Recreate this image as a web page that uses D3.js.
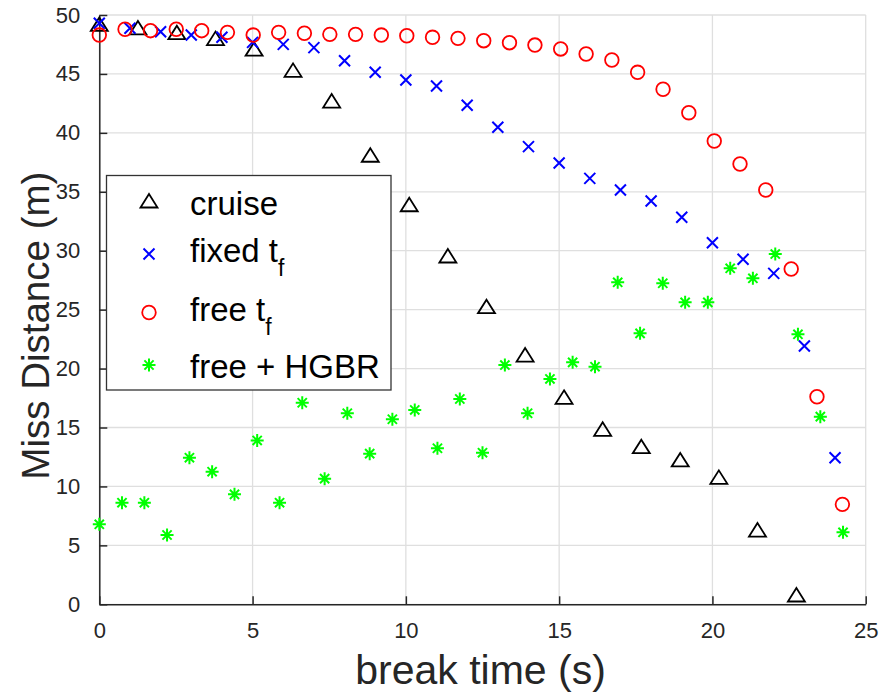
<!DOCTYPE html>
<html>
<head>
<meta charset="utf-8">
<script src="https://cdn.jsdelivr.net/npm/d3@7/dist/d3.min.js"></script>
<style>
  html, body { margin: 0; padding: 0; background: #fff; }
  svg { display: block; font-family: "Liberation Sans", Arial, Helvetica, sans-serif; }
</style>
</head>
<body>
<svg id="chart" width="881" height="698"></svg>
<script>
// ---------- data ----------
const cruiseX = [0, 1.26, 2.53, 3.79, 5.05, 6.32, 7.58, 8.84, 10.11, 11.37, 12.63, 13.89, 15.16, 16.42, 17.68, 18.95, 20.21, 21.47, 22.74];
const cruiseY = [49.2, 48.9, 48.5, 48.0, 47.1, 45.3, 42.7, 38.1, 33.9, 29.55, 25.25, 21.15, 17.56, 14.85, 13.37, 12.25, 10.77, 6.3, 0.79];

const fixedX = [0, 1, 2, 3, 4, 5, 6, 7, 8, 9, 10, 11, 12, 13, 14, 15, 16, 17, 18, 19, 20, 21, 22, 23, 24];
const fixedY = [49.3, 48.87, 48.58, 48.3, 48.11, 47.68, 47.51, 47.23, 46.12, 45.14, 44.48, 43.98, 42.34, 40.47, 38.83, 37.44, 36.14, 35.15, 34.22, 32.84, 30.68, 29.27, 28.08, 21.92, 12.44];

const freeX = [0, 0.84, 1.67, 2.51, 3.34, 4.18, 5.02, 5.85, 6.69, 7.52, 8.36, 9.2, 10.03, 10.87, 11.7, 12.54, 13.38, 14.21, 15.05, 15.88, 16.72, 17.56, 18.39, 19.23, 20.06, 20.9, 21.74, 22.57, 23.41, 24.24];
const freeY = [48.3, 48.79, 48.67, 48.79, 48.67, 48.53, 48.3, 48.53, 48.45, 48.36, 48.36, 48.3, 48.24, 48.11, 48.02, 47.82, 47.65, 47.45, 47.12, 46.69, 46.18, 45.14, 43.7, 41.71, 39.31, 37.36, 35.15, 28.45, 17.61, 8.48];

const hgbrX = [0, 0.74, 1.47, 2.21, 2.94, 3.68, 4.41, 5.15, 5.88, 6.62, 7.35, 8.09, 8.82, 9.56, 10.29, 11.03, 11.76, 12.5, 13.23, 13.97, 14.7, 15.44, 16.17, 16.91, 17.64, 18.38, 19.11, 19.85, 20.58, 21.32, 22.05, 22.79, 23.52, 24.26];
const hgbrY = [6.79, 8.62, 8.62, 5.88, 12.44, 11.25, 9.33, 13.9, 8.62, 17.1, 10.66, 16.21, 12.78, 15.7, 16.49, 13.24, 17.42, 12.86, 20.3, 16.21, 19.12, 20.53, 20.16, 27.32, 22.99, 27.24, 25.62, 25.62, 28.51, 27.66, 29.72, 22.91, 15.92, 6.11];

const xTicks = [0, 5, 10, 15, 20, 25];
const yTicks = [0, 5, 10, 15, 20, 25, 30, 35, 40, 45, 50];
const xLabel = "break time (s)";
const yLabel = "Miss Distance (m)";
const legendLabels = ["cruise", "fixed t", "free t", "free + HGBR"];

// ---------- layout ----------
const L = 99.3, R = 865.7, T = 15, B = 604.3;
const svg = d3.select("#chart");
const x = d3.scaleLinear().domain([0, 25]).range([L, R]);
const y = d3.scaleLinear().domain([0, 50]).range([B, T]);
const axisColor = "#262626";
const gridColor = "#dfdfdf";

// grid
const grid = svg.append("g");
grid.selectAll("line.gx").data(xTicks).join("line")
  .attr("x1", d => x(d)).attr("x2", d => x(d)).attr("y1", T).attr("y2", B)
  .attr("stroke", gridColor).attr("stroke-width", 1.3);
grid.selectAll("line.gy").data(yTicks).join("line")
  .attr("y1", d => y(d)).attr("y2", d => y(d)).attr("x1", L).attr("x2", R)
  .attr("stroke", gridColor).attr("stroke-width", 1.3);

// axes (inward ticks)
const xAxis = d3.axisBottom(x).tickValues(xTicks).tickSizeInner(-8).tickSizeOuter(0).tickPadding(18);
const yAxis = d3.axisLeft(y).tickValues(yTicks).tickSizeInner(-8).tickSizeOuter(0).tickPadding(19);
const gx = svg.append("g").attr("transform", `translate(0,${B})`).call(xAxis);
const gy = svg.append("g").attr("transform", `translate(${L},0)`).call(yAxis);
[gx, gy].forEach(g => {
  g.select(".domain").attr("stroke", axisColor).attr("stroke-width", 1.5);
  g.selectAll(".tick line").attr("stroke", axisColor).attr("stroke-width", 1.5);
  g.selectAll(".tick text").attr("fill", axisColor).attr("font-size", 22)
    .attr("font-family", "'Liberation Sans', Arial, sans-serif");
});

// axis labels
svg.append("text").attr("x", (L + R) / 2 - 2).attr("y", 684)
  .attr("text-anchor", "middle").attr("font-size", 41).attr("fill", axisColor).text(xLabel);
svg.append("text").attr("transform", `translate(49,${(T + B) / 2 + 16}) rotate(-90)`)
  .attr("text-anchor", "middle").attr("font-size", 38.5).attr("fill", axisColor).text(yLabel);

// ---------- markers ----------
const triPath = "M0,-7 L8.5,6.5 L-8.5,6.5 Z";
const xPath = "M-5.5,-5.5 L5.5,5.5 M-5.5,5.5 L5.5,-5.5";
const starPath = "M0,-6.5 L0,6.5 M-6.5,0 L6.5,0 M-4.6,-4.6 L4.6,4.6 M-4.6,4.6 L4.6,-4.6";

function zip(xs, ys) { return xs.map((v, i) => [v, ys[i]]); }

const plot = svg.append("g");
plot.selectAll("path.tri").data(zip(cruiseX, cruiseY)).join("path")
  .attr("d", triPath).attr("transform", d => `translate(${x(d[0])},${y(d[1])})`)
  .attr("fill", "none").attr("stroke", "#000").attr("stroke-width", 1.8);
plot.selectAll("path.xm").data(zip(fixedX, fixedY)).join("path")
  .attr("d", xPath).attr("transform", d => `translate(${x(d[0])},${y(d[1])})`)
  .attr("fill", "none").attr("stroke", "#0000ff").attr("stroke-width", 2);
plot.selectAll("circle.cm").data(zip(freeX, freeY)).join("circle")
  .attr("cx", d => x(d[0])).attr("cy", d => y(d[1])).attr("r", 6.8)
  .attr("fill", "none").attr("stroke", "#ff0000").attr("stroke-width", 1.8);
plot.selectAll("path.sm").data(zip(hgbrX, hgbrY)).join("path")
  .attr("d", starPath).attr("transform", d => `translate(${x(d[0])},${y(d[1])})`)
  .attr("fill", "none").attr("stroke", "#00ff00").attr("stroke-width", 2);

// ---------- legend ----------
const lg = svg.append("g");
lg.append("rect").attr("x", 106.5).attr("y", 175.5).attr("width", 284.5).attr("height", 214.5)
  .attr("fill", "#fff").attr("stroke", "#333").attr("stroke-width", 1.3);
const rowsY = [201, 254, 312.5, 365];
const mx = 149;
lg.append("path").attr("d", triPath).attr("transform", `translate(${mx},${rowsY[0]})`)
  .attr("fill", "none").attr("stroke", "#000").attr("stroke-width", 1.8);
lg.append("path").attr("d", xPath).attr("transform", `translate(${mx},${rowsY[1]})`)
  .attr("fill", "none").attr("stroke", "#0000ff").attr("stroke-width", 2);
lg.append("circle").attr("cx", mx).attr("cy", rowsY[2]).attr("r", 6.8)
  .attr("fill", "none").attr("stroke", "#ff0000").attr("stroke-width", 1.8);
lg.append("path").attr("d", starPath).attr("transform", `translate(${mx},${rowsY[3]})`)
  .attr("fill", "none").attr("stroke", "#00ff00").attr("stroke-width", 2);

const textY = [215, 262, 321, 378];
legendLabels.forEach((lab, i) => {
  const t = lg.append("text").attr("x", 190).attr("y", textY[i])
    .attr("font-size", 33).attr("fill", "#000").text(lab);
  if (i === 1 || i === 2) {
    t.append("tspan").attr("dy", 14).attr("font-size", 23).text("f");
  }
});
</script>
</body>
</html>
